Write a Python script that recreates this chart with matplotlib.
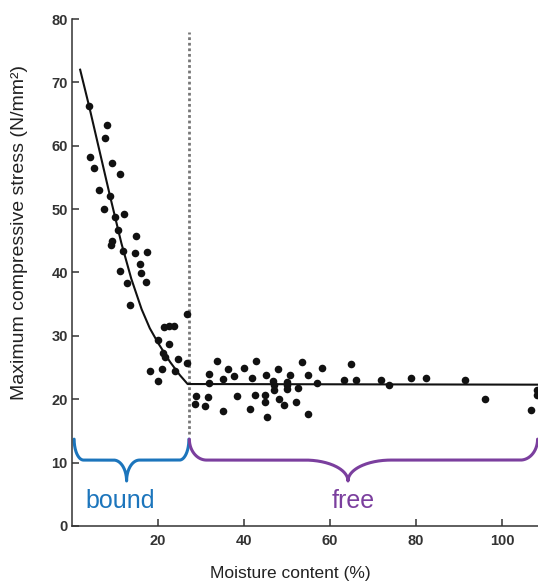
import matplotlib
matplotlib.use("Agg")
import matplotlib.pyplot as plt
import numpy as np

plt.rcParams['font.family'] = ['Liberation Sans', 'DejaVu Sans']

# measured points below the fibre saturation point (bound water)
bound_x = [3.95, 8.1, 7.7, 4.2, 5.1, 9.2, 11.2, 6.3, 8.8, 7.4, 10.0, 12.2, 10.8, 15.0,
           9.4, 9.1, 11.8, 14.7, 17.4, 15.8, 11.2, 16.0, 12.8, 17.2, 13.6, 26.8, 21.5,
           22.6, 23.8, 20.0, 22.6, 21.1, 21.6, 24.7, 26.8, 18.2, 20.9, 24.0, 20.0]
bound_y = [66.2, 63.3, 61.3, 58.2, 56.5, 57.2, 55.6, 53.0, 52.1, 50.0, 48.7, 49.2, 46.7, 45.7,
           45.0, 44.4, 43.4, 43.0, 43.3, 41.3, 40.2, 39.9, 38.4, 38.5, 34.8, 33.5, 31.4,
           31.5, 31.5, 29.3, 28.7, 27.3, 26.6, 26.4, 25.7, 24.4, 24.7, 24.5, 22.9]

# measured points above it (free water)
free_x = [33.8, 31.8, 36.3, 40.0, 42.9, 35.1, 37.6, 41.8, 31.9, 28.8, 31.6, 38.4, 42.6,
          28.7, 30.9, 35.2, 41.5, 45.1, 48.0, 53.6, 50.7, 55.0, 58.2, 65.0, 46.7, 47.0,
          47.0, 49.9, 49.9, 49.9, 52.6, 57.1, 63.2, 66.0, 71.9, 73.8, 45.0, 45.0, 48.2,
          49.4, 52.2, 45.3, 55.0, 78.8, 82.3, 91.4, 96.0, 106.7, 108.2, 108.2]
free_y = [26.1, 24.0, 24.8, 24.9, 26.1, 23.2, 23.7, 23.4, 22.5, 20.5, 20.3, 20.5, 20.6,
          19.2, 18.9, 18.1, 18.5, 23.8, 24.7, 25.8, 23.9, 23.9, 24.9, 25.5, 22.8, 22.2,
          21.5, 22.7, 22.2, 21.6, 21.8, 22.6, 23.1, 23.1, 23.1, 22.3, 20.7, 19.6, 20.0,
          19.1, 19.5, 17.2, 17.6, 23.4, 23.3, 23.1, 20.0, 18.3, 20.6, 21.4]

# fitted trend
fit_x = [1.9, 4.0, 8.8, 11.5, 13.8, 16.2, 18.1, 20.1, 22.8, 25.1, 26.9, 108.5]
fit_y = [72.0, 66.2, 52.2, 44.6, 39.0, 34.2, 31.2, 28.8, 25.9, 23.8, 22.4, 22.3]

fsp = 27.2          # fibre saturation point, % moisture
xmax = 108.4

blue = '#1c75bc'
purple = '#7b3f9e'


def brace(x0, xt, x1, base, h, r_end, r_tip, n=60):
    # curly brace along y=base: quarter-ellipse curls up at the ends,
    # quarter-ellipse shoulders dropping to a point at xt
    th = np.linspace(0, np.pi / 2, n)
    # left end curl, then left shoulder into the tip
    ax1 = x0 + r_end - r_end * np.cos(th)
    ay1 = base + h - h * np.sin(th)
    ax2 = xt - r_tip + r_tip * np.sin(th)
    ay2 = base - h + h * np.cos(th)
    # right shoulder out of the tip, then right end curl
    ax3 = xt + r_tip - r_tip * np.cos(th)
    ay3 = base - h + h * np.sin(th)
    ax4 = x1 - r_end + r_end * np.sin(th)
    ay4 = base + h * (1 - np.cos(th))
    xs = np.concatenate([ax1, ax2, ax3, ax4])
    ys = np.concatenate([ay1, ay2, ay3, ay4])
    return xs, ys


fig = plt.figure(figsize=(5.38, 5.83), dpi=100)
ax = fig.add_axes([0.1338, 0.0978, 1 - 0.1338, 0.9674 - 0.0978])

ax.plot(fit_x, fit_y, color='#111111', lw=1.5, zorder=3)
ax.scatter(bound_x, bound_y, s=30, color='#111111', zorder=4, linewidths=0)
ax.scatter(free_x, free_y, s=30, color='#111111', zorder=4, linewidths=0)

ax.plot([fsp, fsp], [14.5, 78], color='#777777', lw=2, dashes=(1, 1),
        dash_capstyle='butt', zorder=2)

bx, by = brace(0.5, 12.7, fsp, 10.4, 3.3, 2.2, 3.0)
ax.plot(bx, by, color=blue, lw=2.2, solid_capstyle='round', solid_joinstyle='round')
fx, fy = brace(fsp + 0.1, 64.2, xmax - 0.1, 10.4, 3.3, 4.0, 10.0)
ax.plot(fx, fy, color=purple, lw=2.2, solid_capstyle='round', solid_joinstyle='round')

ax.text(11.3, 3.9, 'bound', color=blue, fontsize=18, ha='center', va='center')
ax.text(65.3, 3.9, 'free', color=purple, fontsize=18, ha='center', va='center')

ax.set_xlim(0, xmax)
ax.set_ylim(0, 80)
ax.set_xticks([20, 40, 60, 80, 100])
ax.set_yticks(range(0, 90, 10))

for side in ['top', 'right']:
    ax.spines[side].set_visible(False)
for side in ['left', 'bottom']:
    ax.spines[side].set_color('#333333')
    ax.spines[side].set_linewidth(1.1)

ax.tick_params(axis='both', direction='in', length=5, width=1.1, color='#333333',
               labelsize=10.5, labelcolor='#333333')
ax.tick_params(axis='y', pad=3)
ax.tick_params(axis='x', pad=6)
for lab in ax.get_xticklabels() + ax.get_yticklabels():
    lab.set_fontweight('bold')

ax.set_xlabel('Moisture content (%)', fontsize=12.5, color='#222222', va='center')
ax.xaxis.set_label_coords(0.468, -0.093)
ax.set_ylabel('Maximum compressive stress (N/mm²)', fontsize=14, color='#222222', va='center')
ax.yaxis.set_label_coords(-0.112, 0.579)

fig.savefig('out.png', dpi=100)
